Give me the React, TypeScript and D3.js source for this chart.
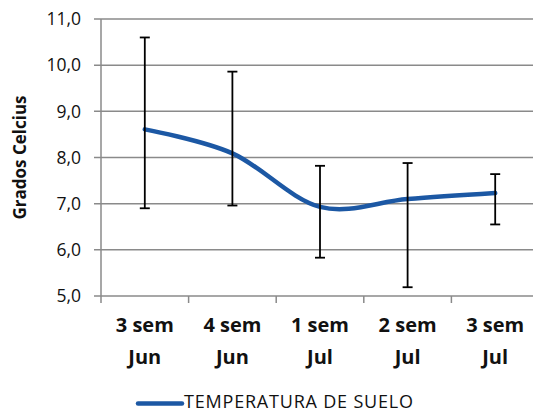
import React from 'react';
import * as d3 from 'd3';

const categories = [['3 sem', 'Jun'], ['4 sem', 'Jun'], ['1 sem', 'Jul'], ['2 sem', 'Jul'], ['3 sem', 'Jul']];
const temperature = [8.61, 8.09, 6.93, 7.1, 7.23];
const errLow = [6.9, 6.96, 5.83, 5.19, 6.55];
const errHigh = [10.6, 9.86, 7.82, 7.88, 7.64];
const yTicks = [5, 6, 7, 8, 9, 10, 11];
const seriesName = 'TEMPERATURA DE SUELO';

const W = 533;
const H = 412;
const plot = { left: 101, right: 539, top: 19, bottom: 296 };
const gridColor = '#8a8a8a';
const lineColor = '#1c58a4';

const App: React.FC = () => {
    const x = d3.scaleBand<number>()
        .domain(d3.range(categories.length))
        .range([plot.left, plot.right]);
    const y = d3.scaleLinear().domain([5, 11]).range([plot.bottom, plot.top]);
    const cx = (i: number) => (x(i) as number) + x.bandwidth() / 2;

    const line = d3.line<number>()
        .x((_, i) => cx(i))
        .y(d => y(d))
        .curve(d3.curveCardinal.tension(0));

    const fmt = (v: number) => v.toFixed(1).replace('.', ',');

    return (
        <svg width={W} height={H} style={{ position: 'absolute', left: 0, top: 0, fontFamily: '"Open Sans", sans-serif' }}>
            <rect width={W} height={H} fill="#fff" />
            {/* gridlines + y ticks */}
            {yTicks.map(t => (
                <g key={t}>
                    <line x1={plot.left - 7} x2={plot.right} y1={y(t)} y2={y(t)} stroke={gridColor} strokeWidth={1.5} />
                    <text x={81} y={y(t)} dy="0.36em" textAnchor="end" fontSize={17.5} fill="#111">{fmt(t)}</text>
                </g>
            ))}
            <line x1={plot.left} x2={plot.left} y1={plot.top} y2={plot.bottom} stroke={gridColor} strokeWidth={1.5} />
            {/* x ticks */}
            {d3.range(categories.length + 1).map(i => {
                const xx = plot.left + i * x.bandwidth();
                return <line key={i} x1={xx} x2={xx} y1={plot.bottom} y2={plot.bottom + 7} stroke={gridColor} strokeWidth={1.5} />;
            })}
            {categories.map((c, i) => (
                <text key={i} x={cx(i)} textAnchor="middle" fontSize={20} fontWeight="bold" fill="#111">
                    <tspan x={cx(i)} y={332}>{c[0]}</tspan>
                    <tspan x={cx(i)} y={364}>{c[1]}</tspan>
                </text>
            ))}
            <text transform={`translate(26,${(plot.top + plot.bottom) / 2}) rotate(-90)`} textAnchor="middle"
                  fontSize={17} fontWeight="bold" fill="#111">Grados Celcius</text>
            {/* series line */}
            <path d={line(temperature) || ''} fill="none" stroke={lineColor} strokeWidth={4.5} strokeLinecap="round" />
            {/* error bars */}
            {temperature.map((_, i) => (
                <g key={i} stroke="#000" strokeWidth={1.8}>
                    <line x1={cx(i)} x2={cx(i)} y1={y(errLow[i])} y2={y(errHigh[i])} />
                    <line x1={cx(i) - 5} x2={cx(i) + 5} y1={y(errLow[i])} y2={y(errLow[i])} />
                    <line x1={cx(i) - 5} x2={cx(i) + 5} y1={y(errHigh[i])} y2={y(errHigh[i])} />
                </g>
            ))}
            {/* legend */}
            <line x1={138} x2={182} y1={403.5} y2={403.5} stroke={lineColor} strokeWidth={4.5} strokeLinecap="round" />
            <text x={184} y={408} fontSize={18} fill="#111" textLength={229} lengthAdjust="spacing">{seriesName}</text>
        </svg>
    );
};

export default App;
